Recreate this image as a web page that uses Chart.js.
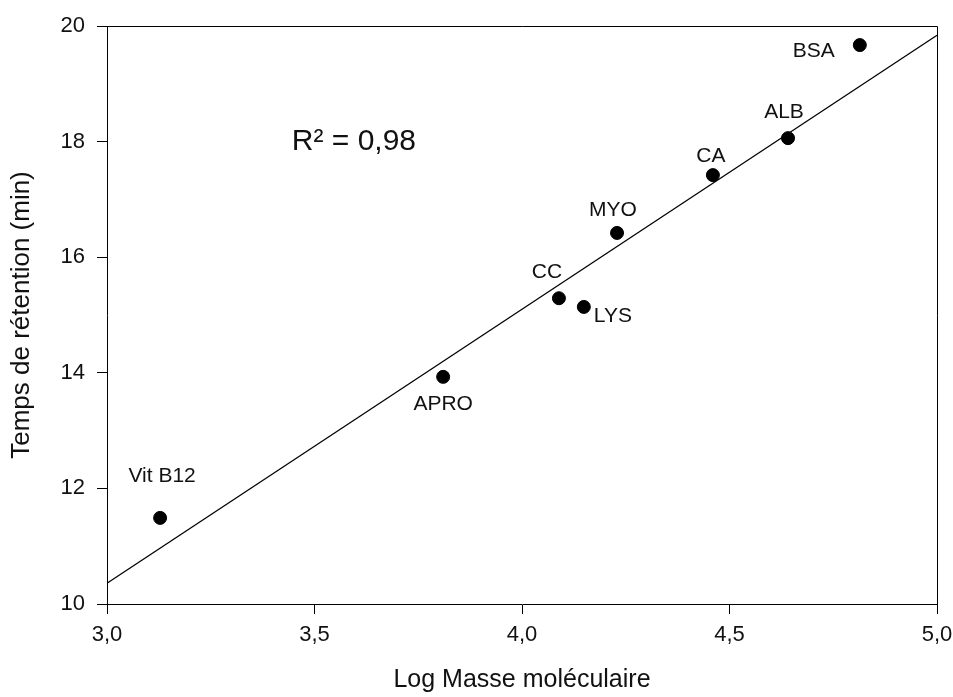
<!DOCTYPE html>
<html>
<head>
<meta charset="utf-8">
<script src="https://cdn.jsdelivr.net/npm/chart.js@4/dist/chart.umd.min.js"></script>
<style>
  html, body { margin: 0; padding: 0; background: #fff; }
  #wrap { width: 953px; height: 697px; }
</style>
</head>
<body>
<div id="wrap"><canvas id="c" width="953" height="697"></canvas></div>
<script>
// ---- Data ----
const proteins = ['Vit B12', 'APRO', 'CC', 'LYS', 'MYO', 'CA', 'ALB', 'BSA'];
const logMass = [3.128, 3.810, 4.089, 4.149, 4.229, 4.460, 4.641, 4.814];
const retentionTime = [11.49, 13.93, 15.29, 15.14, 16.42, 17.42, 18.06, 19.67];
const fitX = [3.0, 5.0];
const fitY = [10.36, 19.84];
const xTicks = [3.0, 3.5, 4.0, 4.5, 5.0];
const yTicks = [10, 12, 14, 16, 18, 20];
const r2Label = 'R² = 0,98';
const r2Anchor = [3.595, 18.0];

const FONT = "'Liberation Sans', Arial, sans-serif";
const TEXT = '#111';

// label placement (pixel offsets relative to each point), in protein order
const labelOffsets = [[2, -42], [0, 27], [-12, -26], [29, 9], [-4, -23], [-2, -19], [-4, -26], [-46, 6]];

const annotatePlugin = {
  id: 'annotate',
  afterDatasetsDraw(chart) {
    const ctx = chart.ctx;
    const meta = chart.getDatasetMeta(1);
    ctx.save();
    ctx.fillStyle = TEXT;
    ctx.font = `21px ${FONT}`;
    ctx.textAlign = 'center';
    ctx.textBaseline = 'middle';
    meta.data.forEach((el, i) => {
      const o = labelOffsets[i];
      ctx.fillText(proteins[i], el.x + o[0], el.y + o[1]);
    });
    const xs = chart.scales.x, ys = chart.scales.y;
    ctx.font = `30px ${FONT}`;
    ctx.fillText(r2Label, xs.getPixelForValue(r2Anchor[0]), ys.getPixelForValue(r2Anchor[1]));
    ctx.restore();
  },
  beforeDatasetsDraw(chart) {
    const {ctx, chartArea: a} = chart;
    ctx.save();
    ctx.strokeStyle = '#000';
    ctx.lineWidth = 1;
    ctx.beginPath();
    ctx.moveTo(a.left, Math.round(a.top) + 0.5);
    ctx.lineTo(Math.round(a.right) + 0.5, Math.round(a.top) + 0.5);
    ctx.lineTo(Math.round(a.right) + 0.5, a.bottom);
    ctx.stroke();
    ctx.restore();
  }
};

const fitData = fitX.map((x, i) => ({x, y: fitY[i]}));
const pointData = logMass.map((x, i) => ({x, y: retentionTime[i]}));

new Chart(document.getElementById('c'), {
  type: 'scatter',
  data: {
    datasets: [
      {
        type: 'line',
        data: fitData,
        borderColor: '#000',
        borderWidth: 1.2,
        pointRadius: 0,
        fill: false,
        tension: 0
      },
      {
        data: pointData,
        backgroundColor: '#000',
        borderColor: '#000',
        pointRadius: 6.5,
        pointHoverRadius: 6.5
      }
    ]
  },
  options: {
    responsive: false,
    animation: false,
    events: [],
    layout: { padding: { left: 0, right: 16, top: 26, bottom: 0 } },
    plugins: { legend: { display: false }, tooltip: { enabled: false } },
    scales: {
      x: {
        type: 'linear',
        min: 3, max: 5,
        afterBuildTicks: s => { s.ticks = xTicks.map(v => ({value: v})); },
        afterFit: s => { s.height = 93; s.paddingLeft = 0; s.paddingRight = 0; },
        ticks: {
          font: { family: FONT, size: 22 },
          color: TEXT,
          padding: 8,
          maxRotation: 0,
          callback: v => v.toFixed(1).replace('.', ',')
        },
        grid: { drawOnChartArea: false, drawTicks: true, tickLength: 10, color: '#000', lineWidth: 1 },
        border: { display: true, color: '#000', width: 1 },
        title: {
          display: true,
          text: 'Log Masse moléculaire',
          font: { family: FONT, size: 25 },
          color: TEXT,
          padding: { top: 0, bottom: 2 }
        }
      },
      y: {
        type: 'linear',
        min: 10, max: 20,
        afterBuildTicks: s => { s.ticks = yTicks.map(v => ({value: v})); },
        afterFit: s => { s.width = 107; s.paddingTop = 0; s.paddingBottom = 0; },
        ticks: {
          font: { family: FONT, size: 22 },
          color: TEXT,
          padding: 12,
          callback: v => String(v)
        },
        grid: { drawOnChartArea: false, drawTicks: true, tickLength: 10, color: '#000', lineWidth: 1 },
        border: { display: true, color: '#000', width: 1 },
        title: {
          display: true,
          text: 'Temps de rétention (min)',
          font: { family: FONT, size: 26 },
          color: TEXT,
          padding: { top: 6, bottom: 0 }
        }
      }
    }
  },
  plugins: [annotatePlugin]
});
</script>
</body>
</html>
